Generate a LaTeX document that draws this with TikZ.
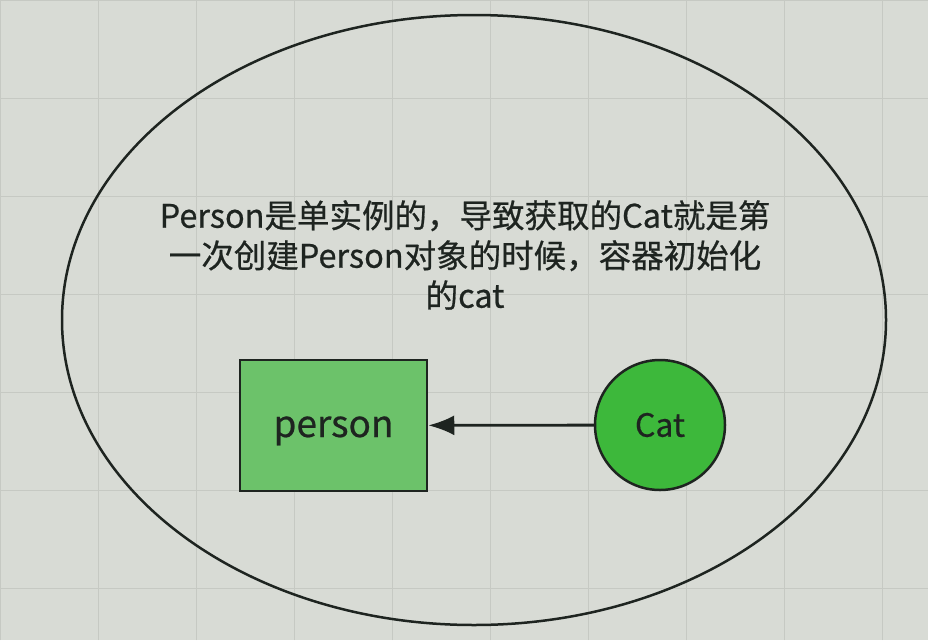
\documentclass[tikz,border=0pt]{standalone}
\usepackage{fontspec}
\setmainfont[FakeBold=0.6,UprightFeatures={FakeBold=0.6}]{Noto Sans CJK SC}
\usetikzlibrary{arrows.meta}
\definecolor{bg}{HTML}{D8DBD5}
\definecolor{gridc}{HTML}{C6C9C3}
\definecolor{boxgreen}{HTML}{6CC26A}
\definecolor{catgreen}{HTML}{3DB83B}
\definecolor{ink}{HTML}{1E2420}
\tikzset{
  bodybox/.style={draw=ink, line width=2.5pt, fill=boxgreen, minimum width=187pt, minimum height=131pt, inner sep=0pt, font=\fontsize{37}{40}\selectfont, text=ink, text height=23pt, text depth=0pt},
  catnode/.style={circle, draw=ink, line width=2.5pt, fill=catgreen, minimum size=130pt, inner sep=0pt, font=\fontsize{32}{36}\selectfont, text=ink},
  note/.style={align=center, font=\fontsize{32.5}{40}\selectfont, text=ink, inner sep=0pt},
  link/.style={draw=ink, line width=2.8pt, -{Latex[length=26pt,width=20pt]}}
}
\begin{document}
\begin{tikzpicture}[x=1pt,y=-1pt]
\fill[bg] (0,0) rectangle (928,640);
\useasboundingbox (0,0) rectangle (928,640);
\draw[gridc, line width=0.8pt] (0,0) grid[step=98pt] (928,640);
\draw[ink, line width=2.5pt] (474,320) ellipse [x radius=412, y radius=305];
\node[note] (txt) at (465,255) {Person是单实例的，导致获取的Cat就是第\\一次创建Person对象的时候，容器初始化\\的cat};
\node[bodybox] (person) at (333.5,425.5) {person};
\node[catnode] (cat) at (660,425) {\raisebox{-2pt}{Cat}};
\draw[link] (cat) -- (person);
\end{tikzpicture}
\end{document}
